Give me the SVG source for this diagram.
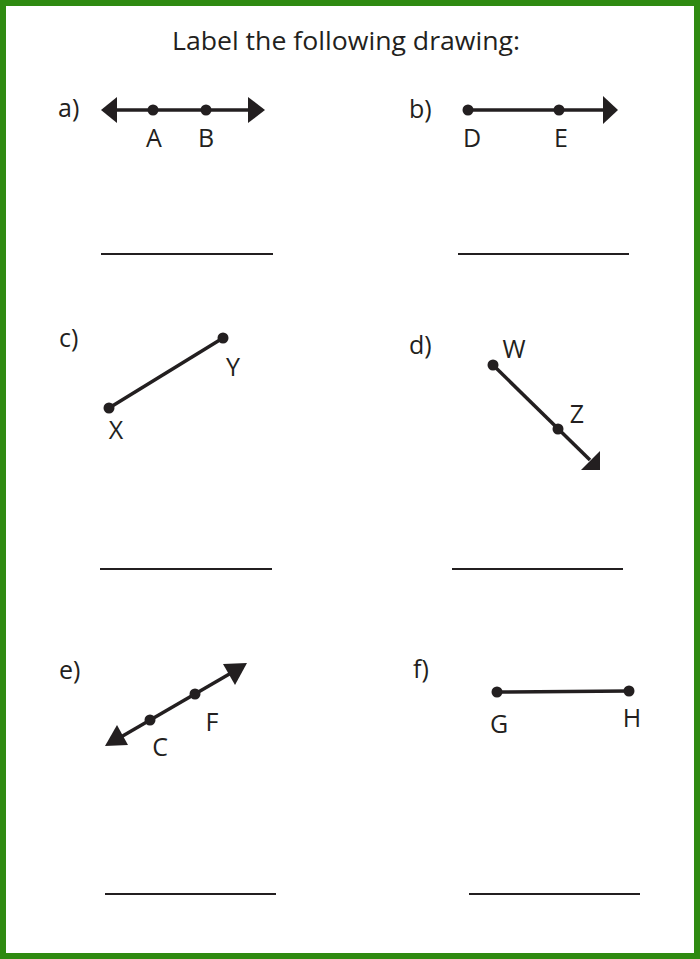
<svg xmlns="http://www.w3.org/2000/svg" width="700" height="959" viewBox="0 0 700 959">
<style>
text{font-family:"Open Sans","Liberation Sans",sans-serif;fill:#231f20;font-size:25px}
.lbl{font-size:25px}
.ln{stroke:#231f20;stroke-width:3.5;fill:none}
.ans{stroke:#231f20;stroke-width:2}
.dot{fill:#231f20}
.ah{fill:#231f20}
.mid{text-anchor:middle}
</style>
<rect x="0" y="0" width="700" height="959" fill="#ffffff"/>
<rect x="3" y="3" width="694" height="953" fill="none" stroke="#2f8a11" stroke-width="6"/>
<text id="title" x="172" y="50" font-size="29" textLength="348" lengthAdjust="spacingAndGlyphs">Label the following drawing:</text>

<g id="connectors">
<line class="ln" x1="112" y1="110" x2="254" y2="110"/>
<polygon class="ah" points="101,110 117,97 117,123"/>
<polygon class="ah" points="265,110 248,97 248,123"/>
<line class="ln" x1="468" y1="110" x2="608" y2="110"/>
<polygon class="ah" points="618,110 603,96 603,124"/>
<line class="ln" x1="109" y1="408" x2="223" y2="338"/>
<line class="ln" x1="493" y1="365" x2="590" y2="460"/>
<polygon class="ah" points="600,470 600,451 581,470"/>
<line class="ln" x1="114" y1="741" x2="238" y2="669"/>
<polygon class="ah" points="247,663 223,664 235,685"/>
<polygon class="ah" points="105,746 128,745 117,725"/>
<line class="ln" x1="497" y1="692" x2="629" y2="691"/>
</g>

<g id="a">
<text class="lbl" x="58" y="117">a)</text>
<circle class="dot" cx="153" cy="110" r="5.5"/>
<circle class="dot" cx="206" cy="110" r="5.5"/>
<text class="mid" x="154" y="147">A</text>
<text class="mid" x="206" y="147">B</text>
<line class="ans" x1="101" y1="254" x2="273" y2="254"/>
</g>
<g id="b">
<text class="lbl" x="409" y="118">b)</text>
<circle class="dot" cx="468" cy="110" r="5.5"/>
<circle class="dot" cx="559" cy="110" r="5.5"/>
<text class="mid" x="472" y="147">D</text>
<text class="mid" x="561" y="147">E</text>
<line class="ans" x1="458" y1="254" x2="629" y2="254"/>
</g>
<g id="c">
<text class="lbl" x="59" y="347">c)</text>
<circle class="dot" cx="109" cy="408" r="5.5"/>
<circle class="dot" cx="223" cy="338" r="5.5"/>
<text class="mid" x="116" y="439">X</text>
<text class="mid" x="233" y="376">Y</text>
<line class="ans" x1="100" y1="569" x2="272" y2="569"/>
</g>
<g id="d">
<text class="lbl" x="409" y="354">d)</text>
<circle class="dot" cx="493" cy="365" r="5.5"/>
<circle class="dot" cx="558" cy="429" r="5.5"/>
<text class="mid" x="514" y="358">W</text>
<text class="mid" x="577" y="423">Z</text>
<line class="ans" x1="452" y1="569" x2="623" y2="569"/>
</g>
<g id="e">
<text class="lbl" x="59" y="679">e)</text>
<circle class="dot" cx="150" cy="720" r="5.5"/>
<circle class="dot" cx="195" cy="694" r="5.5"/>
<text class="mid" x="160" y="756">C</text>
<text class="mid" x="212" y="731">F</text>
<line class="ans" x1="105" y1="894" x2="276" y2="894"/>
</g>
<g id="f">
<text class="lbl" x="413" y="678">f)</text>
<circle class="dot" cx="497" cy="692" r="5.5"/>
<circle class="dot" cx="629" cy="691" r="5.5"/>
<text class="mid" x="499" y="733">G</text>
<text class="mid" x="632" y="727">H</text>
<line class="ans" x1="469" y1="894" x2="640" y2="894"/>
</g>
</svg>
